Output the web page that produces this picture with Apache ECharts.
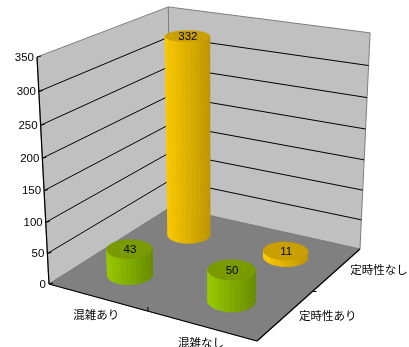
<!DOCTYPE html>
<html><head><meta charset="utf-8">
<style>html,body{margin:0;padding:0;background:#fff}#c{width:409px;height:347px}</style>
<script src="https://cdn.jsdelivr.net/npm/echarts@6/dist/echarts.min.js"></script>
</head><body><div id="c"></div>
<script>
// ---- data ----
const congestion = ['混雑あり', '混雑なし'];
const punctuality = ['定時性あり', '定時性なし'];
const valuesPunctual = [43, 50];
const valuesNotPunctual = [332, 11];
const valueTicks = [0, 50, 100, 150, 200, 250, 300, 350];

// ---- camera: floor corners and vertical vanishing point ----
const A = [49, 284], B = [257, 341], C = [360, 249], D = [171, 207];
const VP = [213, 3390], WALL_TOP_Y = 57;
const dx1 = B[0]-C[0], dx2 = D[0]-C[0], sx = A[0]-B[0]+C[0]-D[0];
const dy1 = B[1]-C[1], dy2 = D[1]-C[1], sy = A[1]-B[1]+C[1]-D[1];
const den = dx1*dy2-dx2*dy1;
const g = (sx*dy2-dx2*sy)/den, h = (dx1*sy-sx*dy1)/den;
const a = B[0]-A[0]+g*B[0], b = D[0]-A[0]+h*D[0];
const d = B[1]-A[1]+g*B[1], e = D[1]-A[1]+h*D[1];
const s = (WALL_TOP_Y-A[1])/(VP[1]-WALL_TOP_Y);
function P(u, v, z) {
  const w = g*u+h*v+1+s*z;
  return [(a*u+b*v+A[0]+s*VP[0]*z)/w, (d*u+e*v+A[1]+s*VP[1]*z)/w];
}
const FONT = '"Liberation Sans", "Noto Sans CJK JP", sans-serif';
const RADIUS = 0.098, FACETS = 28;
const poly = (pts, fill, stroke, lw) => ({type:'polygon', shape:{points:pts}, style:{fill, stroke: stroke||fill, lineWidth: lw===undefined?0.6:lw}});
const line = (p, q, stroke, lw) => ({type:'line', shape:{x1:p[0],y1:p[1],x2:q[0],y2:q[1]}, style:{stroke, lineWidth:lw||1}});
const text = (x, y, t, align, size) => ({type:'text', x, y, style:{text:t, fill:'#000', font:(size||11.5)+'px '+FONT, textAlign:align||'center', textVerticalAlign:'middle'}});
const mix = (c1, c2, f) => 'rgb('+c1.map((c,i)=>Math.round(c+(c2[i]-c)*f)).join(',')+')';

function zOf(api, v) {
  const y0 = api.coord([0,0])[1], y1 = api.coord([0,350])[1];
  return (y0-api.coord([0,v])[1])/(y0-y1);
}
function renderWalls() {
  const grey = '#7f7f7f';
  return {type:'group', children:[
    poly([P(0,0,0),P(0,1,0),P(0,1,1),P(0,0,1)], '#c0c0c0', grey, 1),
    poly([P(0,1,0),P(1,1,0),P(1,1,1),P(0,1,1)], '#c0c0c0', grey, 1),
    poly([P(0,0,0),P(1,0,0),P(1,1,0),P(0,1,0)], '#808080', grey, 1),
    line(P(0,0,0),P(1,0,0),'#000',1.2),
    line(P(1,0,0),P(1,1,0),'#000',1.2),
    line(P(0,0,0),P(0,0,1),'#000',1.2)
  ]};
}
function renderTick(params, api) {
  const v = api.value(1), z = zOf(api, v), p = P(0,0,z), ch = [];
  if (v > 0 && v < 350) {
    ch.push(line(p, P(0,1,z), '#000', 1), line(P(0,1,z), P(1,1,z), '#000', 1));
  }
  ch.push(line(p, [p[0]+4, p[1]-1], '#000', 1));
  ch.push(text(p[0]-3, p[1]+0.5, String(v), 'right'));
  return {type:'group', children:ch};
}
function renderCatX(params, api) {
  const u = (api.value(0)+0.5)/2, p = P(u,0,0);
  const ch = [text(p[0]+(api.value(0)===0?-1:0), p[1]+18.5, congestion[api.value(0)])];
  if (api.value(0) === 0) { const m = P(0.5,0,0); ch.push(line(m,[m[0],m[1]-4],'#000',1)); }
  return {type:'group', children:ch};
}
function renderCatY(params, api) {
  const j = api.value(0), v = (j+0.5)/2, p = P(1,v,0);
  const ch = [text(p[0]+42, p[1]+1.5, punctuality[j])];
  if (j === 0) { const m = P(1,0.5,0); ch.push(line(m,[m[0]+4,m[1]],'#000',1)); }
  return {type:'group', children:ch};
}
function cylinder(api, light, dark, top) {
  const i = api.value(0), j = api.value(1), val = api.value(2);
  const uc = (i+0.5)/2, vc = (j+0.5)/2, zt = zOf(api, val);
  const lo = [], hi = [];
  for (let k = 0; k < FACETS; k++) {
    const t = k/FACETS*2*Math.PI, u = uc+RADIUS*Math.cos(t), v = vc+RADIUS*Math.sin(t);
    lo.push(P(u,v,0)); hi.push(P(u,v,zt));
  }
  const xs = hi.concat(lo).map(p=>p[0]), x0 = Math.min(...xs), x1 = Math.max(...xs);
  const ch = [];
  for (let k = 0; k < FACETS; k++) {
    const n = (k+1)%FACETS, q = [lo[k],lo[n],hi[n],hi[k]];
    const mid = (lo[k][1]+lo[n][1])/2, cy = lo.reduce((r,p)=>r+p[1],0)/FACETS;
    if (mid < cy-0.5) continue;
    const f = ((lo[k][0]+lo[n][0])/2-x0)/(x1-x0);
    ch.push(poly(q, mix(light,dark,f)));
  }
  ch.push(poly(hi, top));
  const c = P(uc,vc,zt);
  ch.push(text(c[0]+0.5, c[1]+1, String(val), 'center', 11.5));
  return {type:'group', children:ch};
}
const GOLD = [[255,204,0],[190,150,0],'#c9a000'], GREEN = [[153,204,0],[104,140,0],'#7a9a00'];
const renderCol = pal => (params, api) => cylinder(api, pal[0], pal[1], pal[2]);

const base = {type:'custom', silent:true, clip:false, animation:false, xAxisIndex:0, yAxisIndex:0};
const chart = echarts.init(document.getElementById('c'), null, {renderer:'canvas'});
chart.setOption({
  animation:false,
  backgroundColor:'#fff',
  grid:{left:0, right:0, top:0, bottom:0},
  xAxis:{type:'category', data:congestion, show:false},
  yAxis:{type:'value', min:0, max:350, interval:50, show:false},
  series:[
    Object.assign({}, base, {name:'walls', renderItem:renderWalls, data:[[0,0]]}),
    Object.assign({}, base, {name:'ticks', renderItem:renderTick, encode:{x:0,y:1}, data:valueTicks.map(v=>[0,v])}),
    Object.assign({}, base, {name:'congestion', renderItem:renderCatX, encode:{x:0}, data:congestion.map((_,i)=>[i])}),
    Object.assign({}, base, {name:'punctuality', renderItem:renderCatY, encode:{x:0}, data:punctuality.map((_,j)=>[j])}),
    Object.assign({}, base, {name:punctuality[1], renderItem:renderCol(GOLD), encode:{x:0,y:2}, data:valuesNotPunctual.map((v,i)=>[i,1,v])}),
    Object.assign({}, base, {name:punctuality[0], renderItem:renderCol(GREEN), encode:{x:0,y:2}, data:valuesPunctual.map((v,i)=>[i,0,v])})
  ]
});
</script></body></html>
